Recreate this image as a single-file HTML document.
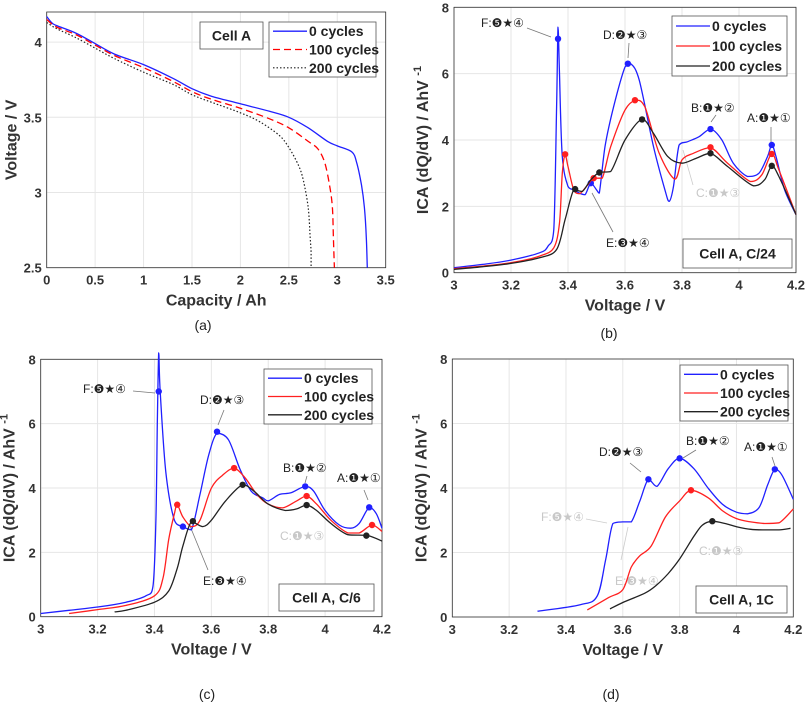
<!DOCTYPE html>
<html><head><meta charset="utf-8"><style>
html,body{margin:0;padding:0;background:#fff;}
svg{display:block;font-family:"Liberation Sans",Arial,sans-serif;}
</style></head><body>
<svg id="fig" width="809" height="702" viewBox="0 0 809 702" xmlns="http://www.w3.org/2000/svg"></svg>
<script>
// ---- Panel (a) data ----
const aBlueX=[0,0.05,0.1,0.3,0.5,0.7,1,1.3,1.5,1.7,2,2.3,2.5,2.7,2.9,3.0,3.15,3.2,3.25,3.28,3.3,3.31];
const aBlueY=[4.17,4.13,4.11,4.06,3.99,3.92,3.85,3.76,3.69,3.64,3.59,3.54,3.50,3.43,3.34,3.31,3.27,3.2,3.05,2.9,2.7,2.5];
const aRedX=[0,0.1,0.3,0.5,0.7,1,1.3,1.5,1.7,2,2.3,2.5,2.7,2.8,2.87,2.92,2.95,2.96,2.97];
const aRedY=[4.15,4.10,4.05,3.98,3.91,3.83,3.74,3.67,3.62,3.56,3.49,3.43,3.34,3.29,3.2,3.05,2.9,2.7,2.5];
const aBlackX=[0,0.1,0.3,0.5,0.7,1,1.3,1.5,1.7,2,2.2,2.4,2.5,2.6,2.65,2.7,2.72,2.73,2.73];
const aBlackY=[4.13,4.09,4.03,3.96,3.89,3.80,3.72,3.65,3.60,3.53,3.47,3.38,3.30,3.18,3.08,2.9,2.7,2.6,2.5];
const aXTicks=[0,0.5,1,1.5,2,2.5,3,3.5];
const aYTicks=[2.5,3,3.5,4];
// ---- Panel (b) data ----
const bBlueX=[3,3.1,3.2,3.3,3.33,3.35,3.36,3.365,3.37,3.38,3.40,3.42,3.44,3.46,3.48,3.50,3.51,3.53,3.56,3.6,3.62,3.65,3.7,3.74,3.755,3.77,3.79,3.82,3.86,3.9,3.94,3.98,4.03,4.07,4.1,4.115,4.13,4.16,4.2];
const bBlueY=[0.15,0.25,0.38,0.6,0.8,1.3,5,7.4,6.0,3.5,2.6,2.5,2.4,2.35,2.7,2.5,2.4,3.8,5.0,6.2,6.3,5.8,3.8,2.5,2.15,2.6,3.85,3.95,4.1,4.33,4.0,3.3,2.9,3.0,3.5,3.85,3.5,2.5,1.75];
const bRedX=[3,3.1,3.2,3.3,3.35,3.37,3.38,3.39,3.40,3.42,3.44,3.46,3.49,3.52,3.55,3.6,3.64,3.67,3.72,3.775,3.8,3.84,3.9,3.96,4.04,4.08,4.115,4.14,4.2];
const bRedY=[0.12,0.2,0.3,0.5,0.75,1.5,3.0,3.55,3.2,2.5,2.38,2.55,2.85,2.85,3.8,4.9,5.2,5.0,3.6,2.82,3.4,3.6,3.77,3.3,2.75,2.95,3.58,3.1,1.75];
const bBlackX=[3,3.1,3.2,3.3,3.36,3.39,3.42,3.45,3.48,3.51,3.55,3.6,3.66,3.7,3.75,3.8,3.85,3.9,3.96,4.05,4.09,4.115,4.14,4.2];
const bBlackY=[0.1,0.18,0.28,0.45,0.7,1.6,2.5,2.45,2.8,3.02,3.05,4.0,4.62,4.2,3.5,3.3,3.45,3.6,3.2,2.62,2.8,3.22,2.9,1.75];
const bBlueMX=[3.365,3.48,3.61,3.9,4.115], bBlueMY=[7.05,2.7,6.3,4.33,3.85];
const bRedMX=[3.39,3.49,3.635,3.9,4.115], bRedMY=[3.57,2.85,5.2,3.78,3.58];
const bBlackMX=[3.425,3.51,3.66,3.9,4.115], bBlackMY=[2.52,3.02,4.62,3.6,3.22];
// ---- Panel (c) data ----
const cBlueX=[3,3.1,3.2,3.3,3.37,3.395,3.405,3.41,3.415,3.42,3.44,3.47,3.5,3.53,3.56,3.59,3.62,3.66,3.7,3.74,3.78,3.8,3.84,3.88,3.93,3.96,4.0,4.05,4.09,4.12,4.155,4.18,4.2];
const cBlueY=[0.1,0.2,0.3,0.45,0.65,0.95,3,6,8.2,7.0,4.5,3.0,2.8,2.7,3.8,5.0,5.7,5.5,4.6,3.9,3.7,3.6,3.8,3.85,4.05,3.9,3.3,2.85,2.75,2.9,3.4,3.2,2.75];
const cRedX=[3.1,3.2,3.3,3.4,3.43,3.45,3.47,3.48,3.5,3.53,3.56,3.6,3.64,3.68,3.72,3.76,3.8,3.85,3.9,3.935,3.97,4.02,4.08,4.12,4.165,4.2];
const cRedY=[0.1,0.22,0.35,0.65,1.2,2.4,3.2,3.48,3.1,2.8,3.0,4.0,4.4,4.62,4.3,3.8,3.5,3.38,3.6,3.75,3.5,3.0,2.6,2.6,2.85,2.65];
const cBlackX=[3.26,3.3,3.4,3.45,3.48,3.5,3.53,3.57,3.6,3.65,3.71,3.75,3.8,3.86,3.9,3.935,3.97,4.02,4.08,4.15,4.2];
const cBlackY=[0.15,0.2,0.45,0.8,1.5,2.2,2.95,2.8,3.0,3.6,4.1,3.9,3.5,3.3,3.35,3.47,3.3,2.9,2.55,2.52,2.35];
const cBlueMX=[3.415,3.5,3.62,3.93,4.155], cBlueMY=[7.0,2.8,5.75,4.05,3.4];
const cRedMX=[3.48,3.68,3.935,4.165], cRedMY=[3.48,4.62,3.75,2.85];
const cBlackMX=[3.535,3.71,3.935,4.145], cBlackMY=[2.97,4.1,3.47,2.52];
// ---- Panel (d) data ----
const dBlueX=[3.3,3.45,3.51,3.54,3.565,3.6,3.63,3.66,3.69,3.72,3.76,3.8,3.85,3.9,3.95,4.0,4.04,4.08,4.11,4.135,4.16,4.2];
const dBlueY=[0.18,0.38,0.65,1.8,2.9,2.95,2.95,3.6,4.27,4.05,4.6,4.92,4.6,4.0,3.5,3.25,3.2,3.4,4.1,4.58,4.4,3.65];
const dRedX=[3.475,3.55,3.6,3.63,3.66,3.7,3.75,3.8,3.84,3.9,3.95,4.0,4.05,4.1,4.15,4.2];
const dRedY=[0.22,0.6,0.85,1.55,1.9,2.2,3.1,3.6,3.93,3.7,3.3,3.05,2.95,2.9,2.92,3.35];
const dBlackX=[3.555,3.6,3.68,3.72,3.76,3.8,3.85,3.88,3.915,3.96,4.0,4.05,4.1,4.15,4.19];
const dBlackY=[0.25,0.45,0.75,1.0,1.35,1.8,2.5,2.85,2.97,2.9,2.8,2.72,2.7,2.7,2.75];
const dBlueMX=[3.69,3.8,4.135], dBlueMY=[4.27,4.92,4.58];
const dRedMX=[3.84], dRedMY=[3.93];
const dBlackMX=[3.915], dBlackMY=[2.97];
const icaXTicks=[3,3.2,3.4,3.6,3.8,4,4.2];
const icaYTicks=[0,2,4,6,8];

const NS="http://www.w3.org/2000/svg";
const svg=document.getElementById('fig');
function el(tag,attrs,parent,text){const e=document.createElementNS(NS,tag);for(const k in attrs)e.setAttribute(k,attrs[k]);if(text!==undefined)e.textContent=text;(parent||svg).appendChild(e);return e;}

function smoothPath(P){
  if(P.length<3) return P.map((p,i)=>(i?'L':'M')+p[0].toFixed(1)+','+p[1].toFixed(1)).join(' ');
  let d='M'+P[0][0].toFixed(1)+','+P[0][1].toFixed(1);
  for(let i=0;i<P.length-1;i++){
    const p0=P[Math.max(i-1,0)],p1=P[i],p2=P[i+1],p3=P[Math.min(i+2,P.length-1)];
    const t=0.16;
    let c1x=p1[0]+(p2[0]-p0[0])*t,c1y=p1[1]+(p2[1]-p0[1])*t;
    let c2x=p2[0]-(p3[0]-p1[0])*t,c2y=p2[1]-(p3[1]-p1[1])*t;
    const lo=Math.min(p1[1],p2[1]),hi=Math.max(p1[1],p2[1]);
    c1y=Math.min(Math.max(c1y,lo),hi);c2y=Math.min(Math.max(c2y,lo),hi);
    const lx=Math.min(p1[0],p2[0]),hx=Math.max(p1[0],p2[0]);
    c1x=Math.min(Math.max(c1x,lx),hx);c2x=Math.min(Math.max(c2x,lx),hx);
    d+=' C'+c1x.toFixed(1)+','+c1y.toFixed(1)+' '+c2x.toFixed(1)+','+c2y.toFixed(1)+' '+p2[0].toFixed(1)+','+p2[1].toFixed(1);
  }
  return d;
}

function panel(id,box,xr,yr,xt,yt,xlab,series,legend,cellBox,cellText,caption,ann,ylabel){
  const g=el('g',{});
  
  
  const [L,T,R,B]=box;
  const sx=v=>L+(v-xr[0])/(xr[1]-xr[0])*(R-L);
  const sy=v=>B-(v-yr[0])/(yr[1]-yr[0])*(B-T);
  xt.forEach(t=>{el('line',{x1:sx(t),x2:sx(t),y1:T,y2:B,stroke:'#e6e6e6','stroke-width':1},g);
    const tl=el('text',{x:sx(t),y:B+17,'text-anchor':'middle','font-size':13,'font-weight':'bold',fill:'#333'},g,String(t));
    });
  yt.forEach(t=>{el('line',{x1:L,x2:R,y1:sy(t),y2:sy(t),stroke:'#e6e6e6','stroke-width':1},g);
    const tl=el('text',{x:L-5,y:sy(t)+5,'text-anchor':'end','font-size':13,'font-weight':'bold',fill:'#333'},g,String(t));
    });
  const ax=el('rect',{x:L,y:T,width:R-L,height:B-T,fill:'none',stroke:'#333','stroke-width':0.8},g);
  
  const xl=el('text',{x:(L+R)/2,y:B+38,'text-anchor':'middle','font-size':16,'font-weight':'bold',fill:'#333'},g,xlab);
  
  const yl=el('text',{x:0,y:0,'text-anchor':'middle','font-size':16,'font-weight':'bold',fill:'#333',transform:`translate(${L-ylabel[1]},${(T+B)/2}) rotate(-90)`},g);
  
  el('tspan',{},yl,ylabel[0]);
  if(ylabel[2]) el('tspan',{dy:-7,'font-size':11},yl,ylabel[2]);
  ann.forEach(a=>{
    if(a.line) el('line',{x1:a.line[0],y1:a.line[1],x2:a.line[2],y2:a.line[3],stroke:a.gray?'#ccc':'#777','stroke-width':0.8},g);
    const t=el('text',{x:a.x,y:a.y,'font-size':12,fill:a.gray?'#c8c8c8':'#222'},g,a.t);
    
  });
  series.forEach(s=>{
    const pts=s.x.map((v,i)=>[sx(v),sy(s.y[i])]);
    const p=el('path',{d:smoothPath(pts),fill:'none',stroke:s.c,'stroke-width':s.w||1.3,'stroke-dasharray':s.dash||'none','stroke-linejoin':'round'},g);
    
    if(s.mx) s.mx.forEach((v,i)=>{const m=el('circle',{cx:sx(v),cy:sy(s.my[i]),r:3.2,fill:s.c},g);
      });
  });
  const [lx,ly,lw,lh]=legend;
  const lg=el('g',{},g);
  el('rect',{x:lx,y:ly,width:lw,height:lh,fill:'#fff',stroke:'#555','stroke-width':0.8},lg);
  series.forEach((s,i)=>{const yy=ly+lh*(i+0.5)/3;
    el('line',{x1:lx+4,x2:lx+38,y1:yy,y2:yy,stroke:s.c,'stroke-width':s.w||1.3,'stroke-dasharray':s.dash||'none'},lg);
    const t=el('text',{x:lx+40,y:yy+5,'font-size':14,'font-weight':'bold',fill:'#222'},lg,s.label);
    });
  const [cx,cy,cw,ch]=cellBox;
  const cg=el('g',{},g);
  el('rect',{x:cx,y:cy,width:cw,height:ch,fill:'#fff',stroke:'#555','stroke-width':0.8},cg);
  el('text',{x:cx+cw/2,y:cy+ch/2+5,'text-anchor':'middle','font-size':14,'font-weight':'bold',fill:'#222'},cg,cellText);
  const cap=el('text',{x:caption[0],y:caption[1],'text-anchor':'middle','font-size':14,fill:'#222'},g,caption[2]);
  
}
const icaY=['ICA (dQ/dV) / AhV ',26,'-1'];

panel('a',[46.7,12,385.7,267.7],[0,3.5],[2.5,4.2],aXTicks,aYTicks,'Capacity / Ah',
 [{x:aBlueX,y:aBlueY,c:'#2020ff',label:'0 cycles',name:'line-0-cycles'},
  {x:aRedX,y:aRedY,c:'#ff0000',dash:'7,4',label:'100 cycles',name:'line-100-cycles'},
  {x:aBlackX,y:aBlackY,c:'#222',dash:'1.5,2',w:1.2,label:'200 cycles',name:'line-200-cycles'}],
 [269,22,107,55],[200,22,63,27],'Cell A',[203,330,'(a)'],[],['Voltage / V',30]);

panel('b',[454,7.3,796,272.7],[3,4.2],[0,8],icaXTicks,icaYTicks,'Voltage / V',
 [{x:bBlueX,y:bBlueY,c:'#2020ff',mx:bBlueMX,my:bBlueMY,label:'0 cycles',name:'line-0-cycles'},
  {x:bRedX,y:bRedY,c:'#ff2020',mx:bRedMX,my:bRedMY,label:'100 cycles',name:'line-100-cycles'},
  {x:bBlackX,y:bBlackY,c:'#222',mx:bBlackMX,my:bBlackMY,label:'200 cycles',name:'line-200-cycles'}],
 [672,16,115,60],[683,239,109,29],'Cell A, C/24',[609,338,'(b)'],
 [{x:481,y:27,t:'F:❺★④',line:[527,28,551,37]},{x:603,y:39,t:'D:❷★③',line:[629,43,628,58]},
  {x:691,y:112,t:'B:❶★②',line:[716,115,711,122]},{x:747,y:122,t:'A:❶★①',line:[771,127,771,143]},
  {x:696,y:197,t:'C:❶★③',gray:true,line:[693,185,683,150]},{x:606,y:247,t:'E:❸★④',line:[613,232,592,193]}],icaY);

panel('c',[40.7,359.3,382,616.7],[3,4.2],[0,8],icaXTicks,icaYTicks,'Voltage / V',
 [{x:cBlueX,y:cBlueY,c:'#2020ff',mx:cBlueMX,my:cBlueMY,label:'0 cycles',name:'line-0-cycles'},
  {x:cRedX,y:cRedY,c:'#ff2020',mx:cRedMX,my:cRedMY,label:'100 cycles',name:'line-100-cycles'},
  {x:cBlackX,y:cBlackY,c:'#222',mx:cBlackMX,my:cBlackMY,label:'200 cycles',name:'line-200-cycles'}],
 [264,369,108,55],[279,584,95,27],'Cell A, C/6',[207,699,'(c)'],
 [{x:83,y:393,t:'F:❺★④',line:[133,391,155,393]},{x:200,y:404,t:'D:❷★③',line:[224,410,218,425]},
  {x:283,y:472,t:'B:❶★②',line:[307,476,305,483]},{x:337,y:482,t:'A:❶★①',line:[364,490,368,500]},
  {x:280,y:540,t:'C:❶★③',gray:true},{x:203,y:585,t:'E:❸★④',line:[208,570,190,526]}],icaY);

panel('d',[452.3,359,793.3,617],[3,4.2],[0,8],icaXTicks,icaYTicks,'Voltage / V',
 [{x:dBlueX,y:dBlueY,c:'#2020ff',mx:dBlueMX,my:dBlueMY,label:'0 cycles',name:'line-0-cycles'},
  {x:dRedX,y:dRedY,c:'#ff2020',mx:dRedMX,my:dRedMY,label:'100 cycles',name:'line-100-cycles'},
  {x:dBlackX,y:dBlackY,c:'#222',mx:dBlackMX,my:dBlackMY,label:'200 cycles',name:'line-200-cycles'}],
 [680,365,108,56],[696,586,91,27],'Cell A, 1C',[611,699,'(d)'],
 [{x:599,y:456,t:'D:❷★③',line:[630,463,641,472]},{x:686,y:445,t:'B:❶★②',line:[696,450,683,458]},
  {x:744,y:451,t:'A:❶★①',line:[772,457,775,466]},{x:541,y:521,t:'F:❺★④',gray:true,line:[586,519,607,523]},
  {x:699,y:555,t:'C:❶★③',gray:true},{x:615,y:585,t:'E:❸★④',gray:true,line:[621,560,628,527]}],icaY);
</script>
</body></html>
